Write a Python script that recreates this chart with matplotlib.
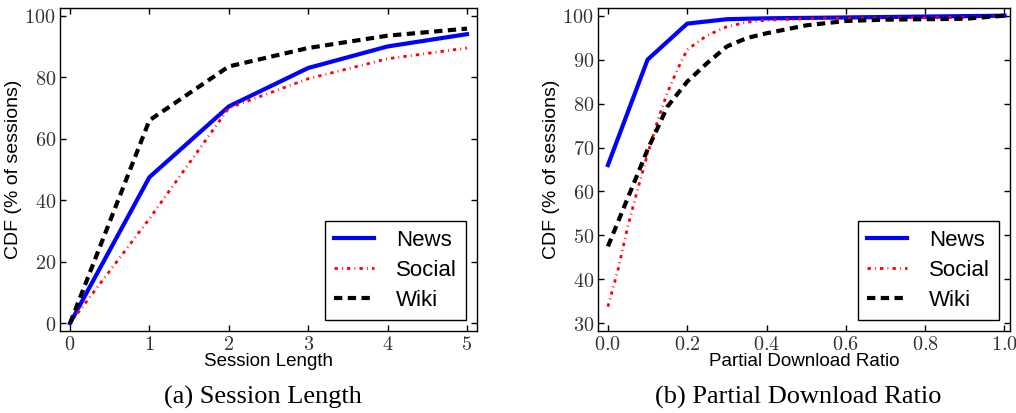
import matplotlib
matplotlib.use('Agg')
import matplotlib.pyplot as plt

plt.rcParams['mathtext.fontset'] = 'cm'

# (a) Session length
session_x = [0, 1, 2, 3, 4, 5]
session_news = [0, 47.5, 70.5, 83, 90, 94]
session_social = [0, 34, 70, 79.5, 86, 89.5]
session_wiki = [0, 66, 83.5, 89.5, 93.5, 95.8]

# (b) Partial download ratio
ratio_news_x = [0.0, 0.1, 0.2, 0.3, 0.4, 0.5, 0.6, 0.7, 0.8, 0.9, 1.0]
ratio_news = [66, 90, 98.2, 99.2, 99.4, 99.5, 99.6, 99.7, 99.8, 99.9, 100]
ratio_social_x = [0.0, 0.025, 0.05, 0.075, 0.1, 0.125, 0.15, 0.175, 0.2, 0.25,
                  0.3, 0.35, 0.4, 0.5, 0.6, 0.7, 0.8, 0.9, 1.0]
ratio_social = [33.8, 42, 52, 60.5, 68.5, 76, 82.5, 87.7, 92.3, 95.5,
                97.5, 98.5, 99, 99.3, 99.4, 99.5, 99.5, 99.6, 100]
ratio_wiki_x = [0.0, 0.05, 0.1, 0.15, 0.2, 0.25, 0.3, 0.35, 0.4, 0.5,
                0.6, 0.7, 0.8, 0.9, 1.0]
ratio_wiki = [47.5, 58.5, 69.5, 79.3, 85, 89.2, 93, 94.9, 96, 97.8,
              98.8, 99.1, 99.2, 99.3, 100]

labels = ['News', 'Social', 'Wiki']

fig = plt.figure(figsize=(10.16, 4.13), dpi=100)
ax1 = fig.add_axes([60 / 1016, 82 / 413, 417 / 1016, 323 / 413])
ax2 = fig.add_axes([598 / 1016, 82 / 413, 412 / 1016, 323 / 413])

news_style = dict(color='blue', linestyle='-', linewidth=3)
social_style = dict(color='red', linestyle=(0, (1.2, 1.5, 0.3, 1.5)), linewidth=2)
wiki_style = dict(color='black', linestyle=(0, (2, 1.3)), linewidth=3)

ax1.plot(session_x, session_news, label=labels[0], **news_style)
ax1.plot(session_x, session_social, label=labels[1], **social_style)
ax1.plot(session_x, session_wiki, label=labels[2], **wiki_style)

ax2.plot(ratio_news_x, ratio_news, label=labels[0], **news_style)
ax2.plot(ratio_social_x, ratio_social, label=labels[1], **social_style)
ax2.plot(ratio_wiki_x, ratio_wiki, label=labels[2], **wiki_style)

ax1.set_xlim(-0.126, 5.126)
ax1.set_ylim(-2.5, 102.5)
ax1.set_xticks(session_x)
ax1.set_xticklabels(['$%d$' % v for v in session_x])
ax1.set_yticks([0, 20, 40, 60, 80, 100])
ax1.set_yticklabels(['$%d$' % v for v in [0, 20, 40, 60, 80, 100]])

ax2.set_xlim(-0.025, 1.014)
ax2.set_ylim(28.25, 101.75)
xt = [0.0, 0.2, 0.4, 0.6, 0.8, 1.0]
ax2.set_xticks(xt)
ax2.set_xticklabels(['$%.1f$' % v for v in xt])
yt = [30, 40, 50, 60, 70, 80, 90, 100]
ax2.set_yticks(yt)
ax2.set_yticklabels(['$%d$' % v for v in yt])

sans = 'Liberation Sans'
for ax, xl, cap in [(ax1, 'Session Length', '(a) Session Length'),
                    (ax2, 'Partial Download Ratio', '(b) Partial Download Ratio')]:
    ax.tick_params(direction='in', top=True, right=True, length=4, width=1,
                   labelsize=14.5, pad=3, colors='black', labelcolor='#333333')
    for s in ax.spines.values():
        s.set_linewidth(1)
    ax.set_xlabel(xl, fontsize=13.5, family=sans, labelpad=-1)
    ax.set_ylabel('CDF (% of sessions)', fontsize=14, family=sans, labelpad=2)
    leg = ax.legend(loc='lower right', prop={'family': sans, 'size': 16},
                    fancybox=False, edgecolor='black', framealpha=1,
                    handlelength=1.8, handletextpad=1.0, labelspacing=0.4,
                    borderaxespad=0.5, borderpad=0.4)
    leg.get_frame().set_linewidth(1)
    bb = ax.get_position()
    fig.text((bb.x0 + bb.x1) / 2 - 6 / 1016, 16 / 413, cap, ha='center', va='center',
             fontsize=19, family='Liberation Serif')

fig.savefig('out.png', dpi=100)
